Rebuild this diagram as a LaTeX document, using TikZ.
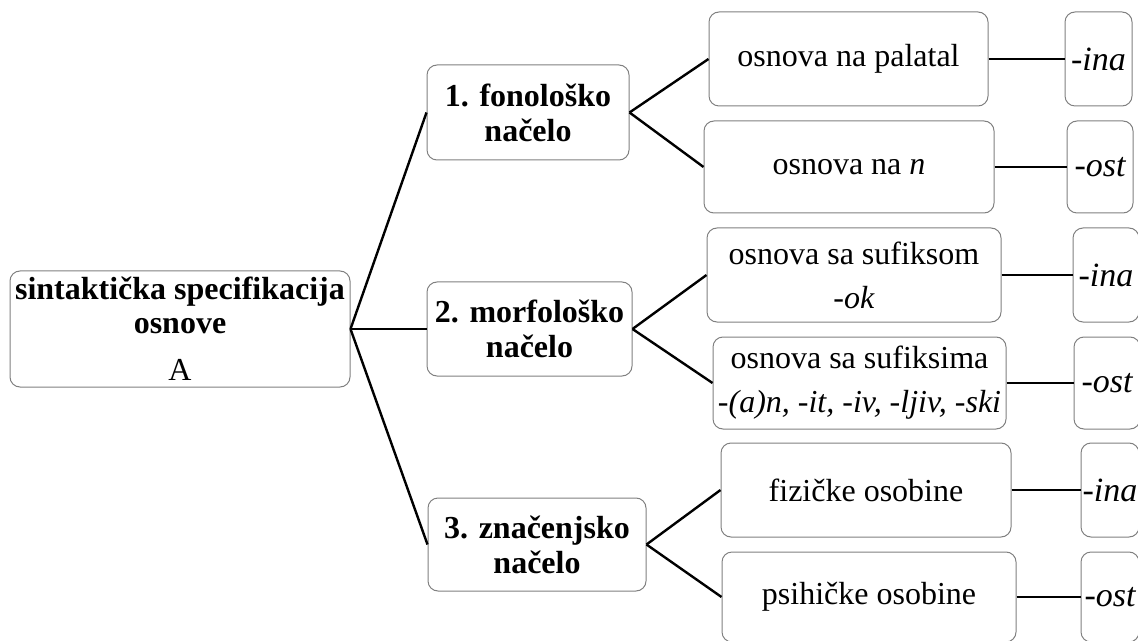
\documentclass[tikz,border=0pt]{standalone}
\usepackage{fontspec}
\setmainfont{Liberation Serif}
\begin{document}
\begin{tikzpicture}[x=0.5pt,y=-0.5pt,
    box/.style={draw=black!50, rounded corners=5pt, line width=0.5pt, inner sep=0pt,
      align=center, font=\fontsize{16}{22}\selectfont},
    head/.style={box, font=\fontsize{16}{17.5}\selectfont\bfseries},
    suf/.style={box, minimum width=33pt, font=\fontsize{17}{19}\selectfont\itshape}]
      \useasboundingbox (0,0) rectangle (1138,641);
      \clip (0,0) rectangle (1138,641);
      \node[box, minimum width=170pt, minimum height=58pt, font=\fontsize{16}{17}\selectfont]
        (0) at (180,329) {\textbf{sintaktička specifikacija}\\\textbf{osnove}\\[6.5pt]A};
      \node[head, minimum width=101pt, minimum height=47.5pt] (1) at (528,112.5) {1. fonološko\\načelo};
      \node[head, minimum width=102.5pt, minimum height=47pt] (2) at (529.5,329) {2. morfološko\\načelo};
      \node[head, minimum width=109pt, minimum height=46.5pt] (3) at (537,544.5) {3. značenjsko\\načelo};
      \node[box, minimum width=139.5pt, minimum height=47pt] (11) at (848.5,59) {osnova na palatal};
      \node[box, minimum width=145pt, minimum height=46pt] (12) at (849,167) {osnova na \textit{n}};
      \node[box, minimum width=147pt, minimum height=47pt] (21) at (854,275) {osnova sa sufiksom\\\textit{-ok}};
      \node[box, minimum width=146.5pt, minimum height=46pt] (22) at (859.5,383) {osnova sa sufiksima\\\textit{-(a)n, -it, -iv, -ljiv, -ski}};
      \node[box, minimum width=145pt, minimum height=47pt] (31) at (866,490) {fizičke osobine};
      \node[box, minimum width=147pt, minimum height=45pt] (32) at (869,597) {psihičke osobine};
      \node[suf, minimum width=33.5pt, minimum height=47pt] (11s) at (1098.5,59) {-ina};
      \node[suf, minimum height=46pt] (12s) at (1100,167) {-ost};
      \node[suf, minimum height=47pt] (21s) at (1106,275) {-ina};
      \node[suf, minimum height=46pt] (22s) at (1107,383) {-ost};
      \node[suf, minimum width=29pt, minimum height=47pt] (31s) at (1110,490) {-ina};
      \node[suf, minimum width=29pt, minimum height=45pt] (32s) at (1110,597) {-ost};
      \begin{scope}[line width=1.2pt]
        \draw (0.east) to (1.west);
        \draw (0.east) to (2.west);
        \draw (0.east) to (3.west);
        \draw (1.east) to (11.west);
        \draw (1.east) to (12.west);
        \draw (2.east) to (21.west);
        \draw (2.east) to (22.west);
        \draw (3.east) to (31.west);
        \draw (3.east) to (32.west);
        \draw (11) to (11s);
        \draw (12) to (12s);
        \draw (21) to (21s);
        \draw (22) to (22s);
        \draw (31) to (31s);
        \draw (32) to (32s);
      \end{scope}
    \end{tikzpicture}
\end{document}
